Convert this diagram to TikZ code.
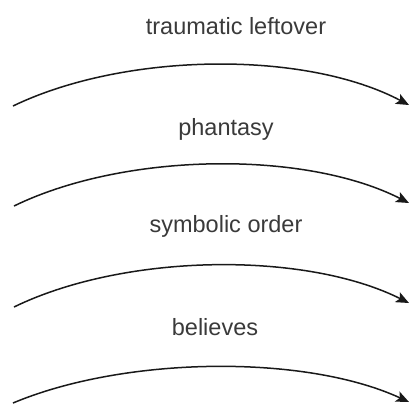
\documentclass[tikz,border=0pt]{standalone}
\usepackage{fontspec}
\setmainfont{Liberation Sans}
\usetikzlibrary{arrows.meta}
\definecolor{txtgray}{HTML}{3A3A3A}
\tikzset{
  lbl/.style={anchor=base, text=txtgray, font=\fontsize{23.5}{28}\selectfont, inner sep=0pt},
  curvearrow/.style={line width=1.5pt, draw=black!90, -{Stealth[length=13pt,width=11pt,inset=3pt]}}
}
\begin{document}
\begin{tikzpicture}[x=1pt,y=-1pt]
\useasboundingbox (0,0) rectangle (409,405);
% labels
\node[lbl] (l1) at (236,34) {traumatic leftover};
\node[lbl] (l2) at (226,135) {phantasy};
\node[lbl] (l3) at (226,232) {symbolic order};
\node[lbl] (l4) at (215,335) {believes};
% end points
\coordinate (s1) at (13,106);  \coordinate (e1) at (409,105);
\coordinate (s2) at (14,206);  \coordinate (e2) at (409,203);
\coordinate (s3) at (14,307);  \coordinate (e3) at (409,303);
\coordinate (s4) at (13,403);  \coordinate (e4) at (409,402);
% arrows
\draw[curvearrow] (s1) .. controls (125,52) and (305,50) .. (e1);
\draw[curvearrow] (s2) .. controls (125,152) and (305,150) .. (e2);
\draw[curvearrow] (s3) .. controls (125,253) and (305,251) .. (e3);
\draw[curvearrow] (s4) .. controls (125,356) and (305,354) .. (e4);
\end{tikzpicture}
\end{document}
